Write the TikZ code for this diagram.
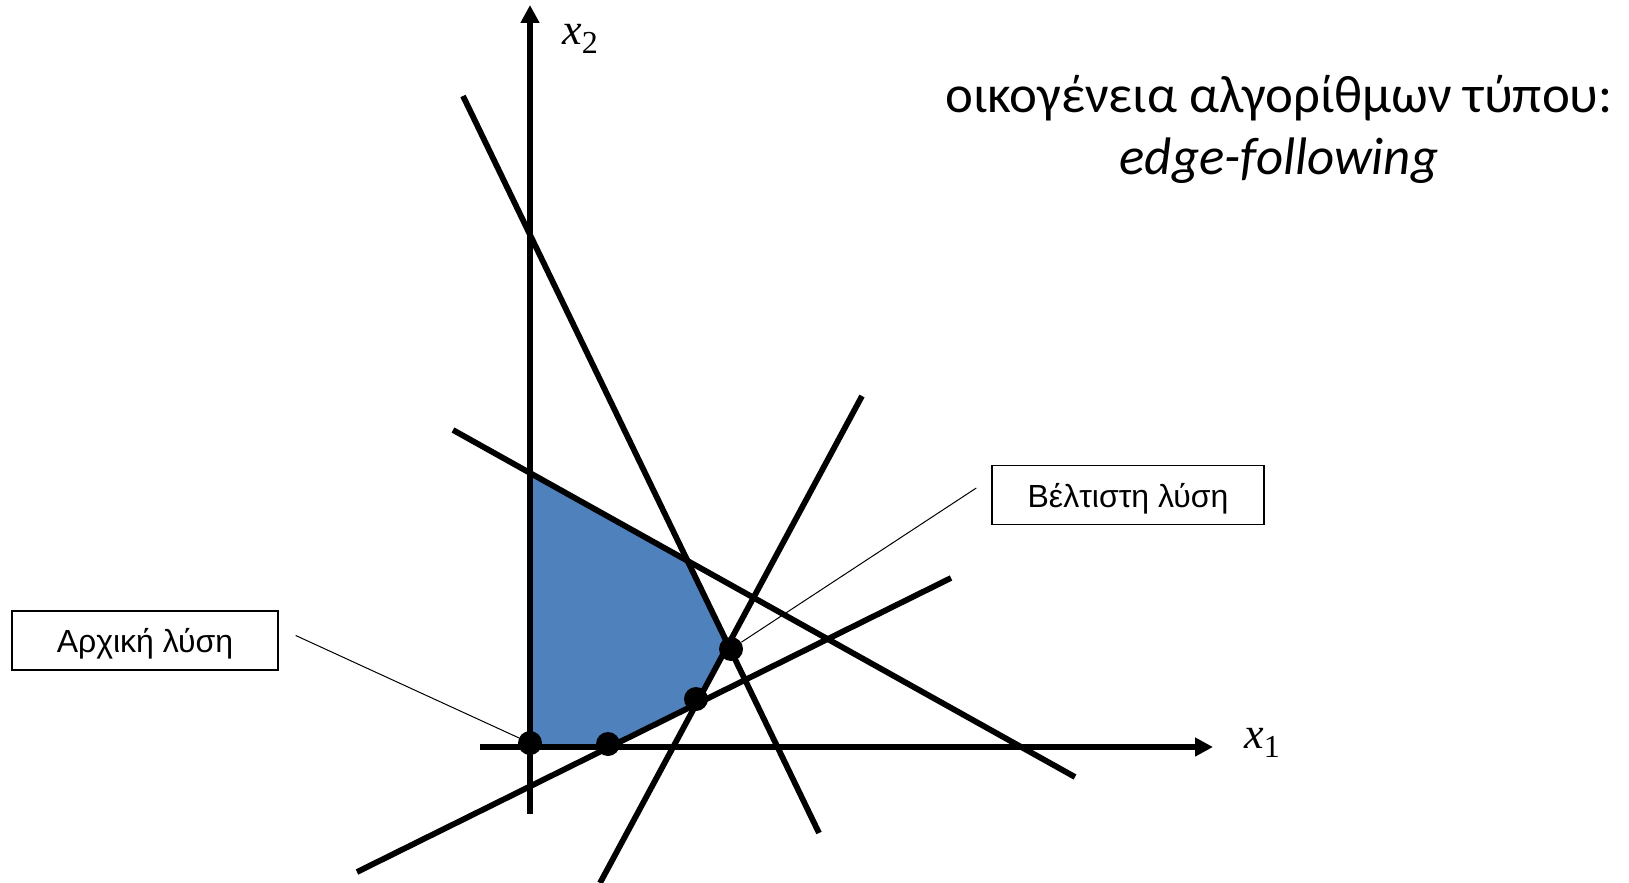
\documentclass[tikz,border=0pt]{standalone}
\usepackage{fontspec}
\setmainfont{Liberation Sans}
\newfontfamily\titlefont{Carlito}
\newfontfamily\axisfont{Liberation Serif}
\usetikzlibrary{arrows.meta,positioning}
\definecolor{feasblue}{HTML}{4F81BD}

\begin{document}
\begin{tikzpicture}[x=0.5pt, y=-0.5pt,
    axis/.style={line width=3pt, -{Triangle[length=9pt,width=9pt]}},
    constraint/.style={line width=2.9pt},
    vertex/.style={circle, fill=black, inner sep=0pt, minimum size=12pt},
    labelbox/.style={draw, line width=0.7pt, minimum height=29.5pt, text height=14pt, text depth=2pt, font=\fontsize{16}{19}\selectfont},
    leader/.style={line width=0.5pt},
    axislabel/.style={font=\axisfont\itshape\fontsize{22}{22}\selectfont}]
    \useasboundingbox (0,0) rectangle (1629,883);

    % axes and constraint lines
    \coordinate (xa) at (480,747);  \coordinate (xb) at (1213,747);
    \coordinate (ya) at (530,814);  \coordinate (yb) at (530,5);
    \coordinate (a1) at (463,96);   \coordinate (a2) at (819,833);
    \coordinate (b1) at (453,430);  \coordinate (b2) at (1075,777);
    \coordinate (c1) at (600,883);  \coordinate (c2) at (862,396);
    \coordinate (d1) at (357,872);  \coordinate (d2) at (951,578);

    % corners of the feasible region
    \coordinate (o)  at (intersection of xa--xb and ya--yb);
    \coordinate (p1) at (intersection of d1--d2 and xa--xb);
    \coordinate (p2) at (intersection of d1--d2 and c1--c2);
    \coordinate (p3) at (intersection of c1--c2 and a1--a2);
    \coordinate (p4) at (intersection of a1--a2 and b1--b2);
    \coordinate (p5) at (intersection of b1--b2 and ya--yb);

    \fill[feasblue] (o) -- (p1) -- (p2) -- (p3) -- (p4) -- (p5) -- cycle;

    \draw[constraint] (a1) -- (a2);
    \draw[constraint] (b1) -- (b2);
    \draw[constraint] (c1) -- (c2);
    \draw[constraint] (d1) -- (d2);
    \draw[axis] (xa) -- (xb);
    \draw[axis] (ya) -- (yb);

    \node[axislabel] (x1lab) at (1262,743) {x\raisebox{-4.5pt}{\upshape\fontsize{16}{16}\selectfont 1}};
    \node[axislabel] (x2lab) at (580,39) {x\raisebox{-4.5pt}{\upshape\fontsize{16}{16}\selectfont 2}};

    % visited vertices
    \node[vertex] (start) at (530,743) {};
    \node[vertex] (v1) at (608,744) {};
    \node[vertex] (v2) at (696,699) {};
    \node[vertex] (best) at (731,649) {};

    \node[labelbox, minimum width=133pt] (initbox) at (145,640.5) {Αρχική λύση};
    \node[labelbox, minimum width=136pt] (bestbox) at (1128,495) {Βέλτιστη λύση};
    \draw[leader] ([shift={(8.5pt,2.5pt)}]initbox.east) -- (start);
    \draw[leader] ([shift={(-7.5pt,3.5pt)}]bestbox.west) -- (best);

    \node[font=\titlefont\fontsize{26.4}{31}\selectfont, align=center] (title) at (1279,129)
        {οικογένεια αλγορίθμων τύπου:\\ \textit{edge-following}};
\end{tikzpicture}
\end{document}
